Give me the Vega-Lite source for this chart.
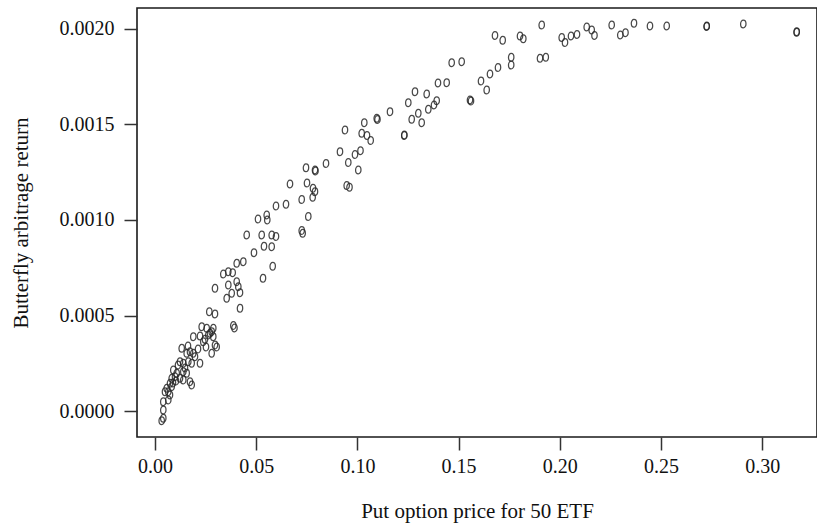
{
  "$schema": "https://vega.github.io/schema/vega-lite/v6.json",
  "width": 680,
  "height": 429,
  "autosize": {"type": "none"},
  "padding": {"left": 137, "top": 8, "right": 0, "bottom": 88},
  "background": "white",
  "config": {
    "view": {"stroke": "#1a1a1a", "strokeWidth": 1.6},
    "font": "Liberation Serif"
  },
  "data": {
    "values": [
      {"price": 0.19106, "ret": 0.0020209},
      {"price": 0.16798, "ret": 0.0019660},
      {"price": 0.17179, "ret": 0.0019408},
      {"price": 0.18034, "ret": 0.0019634},
      {"price": 0.18197, "ret": 0.0019487},
      {"price": 0.20094, "ret": 0.0019555},
      {"price": 0.20257, "ret": 0.0019293},
      {"price": 0.20553, "ret": 0.0019634},
      {"price": 0.20850, "ret": 0.0019712},
      {"price": 0.21329, "ret": 0.0020105},
      {"price": 0.21576, "ret": 0.0019948},
      {"price": 0.21714, "ret": 0.0019660},
      {"price": 0.22564, "ret": 0.0020209},
      {"price": 0.22989, "ret": 0.0019686},
      {"price": 0.23246, "ret": 0.0019806},
      {"price": 0.23666, "ret": 0.0020298},
      {"price": 0.24456, "ret": 0.0020157},
      {"price": 0.25282, "ret": 0.0020157},
      {"price": 0.27258, "ret": 0.0020157},
      {"price": 0.27258, "ret": 0.0020131},
      {"price": 0.29066, "ret": 0.0020262},
      {"price": 0.31704, "ret": 0.0019859},
      {"price": 0.31704, "ret": 0.0019827},
      {"price": 0.19022, "ret": 0.0018466},
      {"price": 0.19308, "ret": 0.0018518},
      {"price": 0.17599, "ret": 0.0018518},
      {"price": 0.17599, "ret": 0.0018115},
      {"price": 0.16947, "ret": 0.0017984},
      {"price": 0.16551, "ret": 0.0017644},
      {"price": 0.16107, "ret": 0.0017277},
      {"price": 0.16388, "ret": 0.0016806},
      {"price": 0.15563, "ret": 0.0016283},
      {"price": 0.15613, "ret": 0.0016230},
      {"price": 0.14659, "ret": 0.0018236},
      {"price": 0.15153, "ret": 0.0018288},
      {"price": 0.14412, "ret": 0.0017189},
      {"price": 0.13982, "ret": 0.0017173},
      {"price": 0.12846, "ret": 0.0016717},
      {"price": 0.13424, "ret": 0.0016597},
      {"price": 0.12515, "ret": 0.0016141},
      {"price": 0.13918, "ret": 0.0016246},
      {"price": 0.13785, "ret": 0.0016021},
      {"price": 0.13503, "ret": 0.0015796},
      {"price": 0.11611, "ret": 0.0015670},
      {"price": 0.13009, "ret": 0.0015586},
      {"price": 0.12683, "ret": 0.0015272},
      {"price": 0.13177, "ret": 0.0015094},
      {"price": 0.10954, "ret": 0.0015325},
      {"price": 0.10993, "ret": 0.0015262},
      {"price": 0.10341, "ret": 0.0015094},
      {"price": 0.09387, "ret": 0.0014712},
      {"price": 0.10212, "ret": 0.0014539},
      {"price": 0.10474, "ret": 0.0014424},
      {"price": 0.10657, "ret": 0.0014162},
      {"price": 0.12317, "ret": 0.0014450},
      {"price": 0.12317, "ret": 0.0014424},
      {"price": 0.09140, "ret": 0.0013576},
      {"price": 0.09881, "ret": 0.0013429},
      {"price": 0.10153, "ret": 0.0013628},
      {"price": 0.09550, "ret": 0.0013010},
      {"price": 0.10044, "ret": 0.0012618},
      {"price": 0.08449, "ret": 0.0012958},
      {"price": 0.07460, "ret": 0.0012733},
      {"price": 0.07905, "ret": 0.0012618},
      {"price": 0.07930, "ret": 0.0012565},
      {"price": 0.06670, "ret": 0.0011885},
      {"price": 0.07510, "ret": 0.0011937},
      {"price": 0.07806, "ret": 0.0011660},
      {"price": 0.07905, "ret": 0.0011482},
      {"price": 0.07791, "ret": 0.0011188},
      {"price": 0.09471, "ret": 0.0011806},
      {"price": 0.09610, "ret": 0.0011712},
      {"price": 0.07248, "ret": 0.0011073},
      {"price": 0.07574, "ret": 0.0010183},
      {"price": 0.05978, "ret": 0.0010733},
      {"price": 0.06472, "ret": 0.0010822},
      {"price": 0.05089, "ret": 0.0010052},
      {"price": 0.05519, "ret": 0.0010262},
      {"price": 0.05548, "ret": 0.0010000},
      {"price": 0.04531, "ret": 0.0009215},
      {"price": 0.05272, "ret": 0.0009215},
      {"price": 0.05766, "ret": 0.0009215},
      {"price": 0.05978, "ret": 0.0009136},
      {"price": 0.04891, "ret": 0.0008288},
      {"price": 0.05385, "ret": 0.0008623},
      {"price": 0.05766, "ret": 0.0008602},
      {"price": 0.07248, "ret": 0.0009450},
      {"price": 0.07297, "ret": 0.0009304},
      {"price": 0.05815, "ret": 0.0007576},
      {"price": 0.05336, "ret": 0.0006948},
      {"price": 0.04037, "ret": 0.0007733},
      {"price": 0.04363, "ret": 0.0007817},
      {"price": 0.03375, "ret": 0.0007173},
      {"price": 0.03622, "ret": 0.0007293},
      {"price": 0.03839, "ret": 0.0007241},
      {"price": 0.02964, "ret": 0.0006424},
      {"price": 0.03622, "ret": 0.0006597},
      {"price": 0.04037, "ret": 0.0006770},
      {"price": 0.04116, "ret": 0.0006508},
      {"price": 0.03790, "ret": 0.0006162},
      {"price": 0.04200, "ret": 0.0006194},
      {"price": 0.03542, "ret": 0.0005900},
      {"price": 0.04200, "ret": 0.0005377},
      {"price": 0.02683, "ret": 0.0005199},
      {"price": 0.02964, "ret": 0.0005079},
      {"price": 0.03869, "ret": 0.0004476},
      {"price": 0.03928, "ret": 0.0004346},
      {"price": 0.02307, "ret": 0.0004414},
      {"price": 0.02554, "ret": 0.0004330},
      {"price": 0.02880, "ret": 0.0004330},
      {"price": 0.02717, "ret": 0.0004068},
      {"price": 0.02880, "ret": 0.0003890},
      {"price": 0.02470, "ret": 0.0003754},
      {"price": 0.02964, "ret": 0.0003455},
      {"price": 0.03048, "ret": 0.0003351},
      {"price": 0.01892, "ret": 0.0003890},
      {"price": 0.02386, "ret": 0.0003628},
      {"price": 0.02633, "ret": 0.0003979},
      {"price": 0.02801, "ret": 0.0004152},
      {"price": 0.02801, "ret": 0.0003021},
      {"price": 0.01319, "ret": 0.0003283},
      {"price": 0.01566, "ret": 0.0003021},
      {"price": 0.01729, "ret": 0.0003105},
      {"price": 0.01892, "ret": 0.0003021},
      {"price": 0.01976, "ret": 0.0002843},
      {"price": 0.02223, "ret": 0.0002497},
      {"price": 0.01235, "ret": 0.0002581},
      {"price": 0.01398, "ret": 0.0002497},
      {"price": 0.01645, "ret": 0.0002581},
      {"price": 0.01813, "ret": 0.0002497},
      {"price": 0.00904, "ret": 0.0002147},
      {"price": 0.01072, "ret": 0.0001974},
      {"price": 0.01398, "ret": 0.0002058},
      {"price": 0.01566, "ret": 0.0001974},
      {"price": 0.00825, "ret": 0.0001712},
      {"price": 0.00988, "ret": 0.0001796},
      {"price": 0.01235, "ret": 0.0001712},
      {"price": 0.01398, "ret": 0.0001623},
      {"price": 0.00741, "ret": 0.0001450},
      {"price": 0.00825, "ret": 0.0001272},
      {"price": 0.00578, "ret": 0.0001188},
      {"price": 0.00657, "ret": 0.0001010},
      {"price": 0.00494, "ret": 0.0001010},
      {"price": 0.01729, "ret": 0.0001534},
      {"price": 0.01813, "ret": 0.0001361},
      {"price": 0.00410, "ret": 0.0000487},
      {"price": 0.00657, "ret": 0.0000576},
      {"price": 0.00410, "ret": 0.0000052},
      {"price": 0.00410, "ret": -0.0000382},
      {"price": 0.00331, "ret": -0.0000508},
      {"price": 0.01136, "ret": 0.0002408},
      {"price": 0.01482, "ret": 0.0002251},
      {"price": 0.01038, "ret": 0.0001571},
      {"price": 0.00889, "ret": 0.0001466},
      {"price": 0.02125, "ret": 0.0003246},
      {"price": 0.01630, "ret": 0.0003403},
      {"price": 0.00741, "ret": 0.0000838},
      {"price": 0.02223, "ret": 0.0003927},
      {"price": 0.02520, "ret": 0.0003351}
    ]
  },
  "mark": {
    "type": "point",
    "shape": "M0,-1A0.7,1,0,1,1,0,1A0.7,1,0,1,1,0,-1Z",
    "filled": false,
    "size": 60,
    "color": "#2a2a2a",
    "strokeWidth": 1.25,
    "opacity": 0.85
  },
  "encoding": {
    "x": {
      "field": "price",
      "type": "quantitative",
      "scale": {"domain": [-0.00889, 0.32708], "nice": false, "zero": false},
      "axis": {
        "title": "Put option price for 50 ETF",
        "values": [0, 0.05, 0.1, 0.15, 0.2, 0.25, 0.3],
        "format": ".2f",
        "domain": false,
        "grid": false,
        "tickSize": 13,
        "tickColor": "#333",
        "tickWidth": 1.5,
        "labelFont": "Liberation Serif",
        "labelFontSize": 20,
        "labelColor": "#111",
        "labelPadding": 6,
        "labelFlush": false,
        "titleFont": "Liberation Serif",
        "titleFontSize": 21,
        "titleFontWeight": "normal",
        "titleColor": "#111",
        "titlePadding": 24
      }
    },
    "y": {
      "field": "ret",
      "type": "quantitative",
      "scale": {"domain": [-0.0001361, 0.0021099], "nice": false, "zero": false},
      "axis": {
        "title": "Butterfly arbitrage return",
        "values": [0, 0.0005, 0.001, 0.0015, 0.002],
        "format": ".4f",
        "domain": false,
        "grid": false,
        "tickSize": 13,
        "tickColor": "#333",
        "tickWidth": 1.5,
        "labelFont": "Liberation Serif",
        "labelFontSize": 20,
        "labelColor": "#111",
        "labelPadding": 10,
        "labelFlush": false,
        "titleFont": "Liberation Serif",
        "titleFontSize": 21,
        "titleFontWeight": "normal",
        "titleColor": "#111",
        "titlePadding": 28
      }
    }
  }
}
